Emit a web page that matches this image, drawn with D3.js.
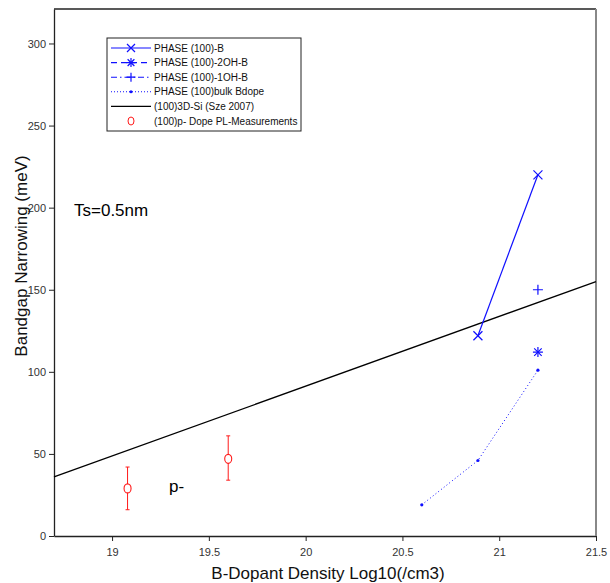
<!DOCTYPE html>
<html>
<head>
<meta charset="utf-8">
<script src="https://cdn.jsdelivr.net/npm/d3@7"></script>
<style>
body { margin: 0; background: #fff; }
svg { font-family: "Liberation Sans", Arial, sans-serif; }
</style>
</head>
<body>
<div id="chart"></div>
<script>
//data below
var phaseB_x = [20.89, 21.2];
var phaseB_y = [122, 220];
var phase2OH_x = [21.2];
var phase2OH_y = [112];
var phase1OH_x = [21.2];
var phase1OH_y = [150];
var bulk_x = [20.6, 20.89, 21.2];
var bulk_y = [19, 46, 101];
var sze_x = [18.7, 21.5];
var sze_y = [36, 155];
var meas_x = [19.08, 19.6];
var meas_y = [29, 47];
var meas_lo = [16, 34];
var meas_hi = [42, 61];

var xTicks = [19, 19.5, 20, 20.5, 21, 21.5];
var yTicks = [0, 50, 100, 150, 200, 250, 300];

var legendLabels = ["PHASE (100)-B", "PHASE (100)-2OH-B", "PHASE (100)-1OH-B",
    "PHASE (100)bulk Bdope", "(100)3D-Si (Sze 2007)", "(100)p- Dope PL-Measurements"];

const blue = "#1010ff";
const red = "#ff1a1a";

//set up svg
const width = 610, height = 583;
const margin = {left: 54, right: 14, top: 9, bottom: 47};

const svg = d3.select("#chart")
    .append("svg")
    .attr("width", width)
    .attr("height", height);

const x = d3.scaleLinear()
    .domain([18.7, 21.5])
    .range([margin.left, width - margin.right]);

const y = d3.scaleLinear()
    .domain([0, 321])
    .range([height - margin.bottom, margin.top]);

const pts = (xs, ys) => xs.map((v, i) => [v, ys[i]]);
const line = d3.line().x(d => x(d[0])).y(d => y(d[1]));

//axes
const xAxis = svg.append("g")
    .attr("transform", "translate(0," + y(0) + ")")
    .call(d3.axisBottom(x).tickValues(xTicks).tickSize(5).tickSizeOuter(0).tickFormat(d3.format("")));
const yAxis = svg.append("g")
    .attr("transform", "translate(" + x(18.7) + ",0)")
    .call(d3.axisLeft(y).tickValues(yTicks).tickSize(5).tickSizeOuter(0));
[xAxis, yAxis].forEach(a => {
    a.selectAll("text").attr("font-size", 11).attr("fill", "#333")
        .attr("font-family", "Liberation Sans, Arial, sans-serif");
    a.select(".domain").attr("stroke", "#222").attr("stroke-width", 1.3);
    a.selectAll(".tick line").attr("stroke", "#222");
});
xAxis.selectAll("text").attr("dy", "1.1em");

//top and right frame
svg.append("line")
    .attr("x1", x(18.7)).attr("x2", x(21.5))
    .attr("y1", y(321)).attr("y2", y(321))
    .attr("stroke", "#222").attr("stroke-width", 1.3);
svg.append("line")
    .attr("x1", x(21.5)).attr("x2", x(21.5))
    .attr("y1", y(321)).attr("y2", y(0))
    .attr("stroke", "#888").attr("stroke-width", 2);

//Sze line
svg.append("path")
    .attr("d", line(pts(sze_x, sze_y)))
    .attr("fill", "none").attr("stroke", "#000").attr("stroke-width", 1.3);

//PHASE (100)-B
svg.append("path")
    .attr("d", line(pts(phaseB_x, phaseB_y)))
    .attr("fill", "none").attr("stroke", blue).attr("stroke-width", 1.2);

function crossMark(g, cx, cy, s) {
    g.append("path")
        .attr("d", "M" + (cx - s) + "," + (cy - s) + "L" + (cx + s) + "," + (cy + s) +
            "M" + (cx - s) + "," + (cy + s) + "L" + (cx + s) + "," + (cy - s))
        .attr("stroke", blue).attr("stroke-width", 1.2).attr("fill", "none");
}
function plusMark(g, cx, cy, s) {
    g.append("path")
        .attr("d", "M" + (cx - s) + "," + cy + "L" + (cx + s) + "," + cy +
            "M" + cx + "," + (cy - s) + "L" + cx + "," + (cy + s))
        .attr("stroke", blue).attr("stroke-width", 1.2).attr("fill", "none");
}
function starMark(g, cx, cy, s) {
    plusMark(g, cx, cy, s);
    crossMark(g, cx, cy, s * 0.75);
}

pts(phaseB_x, phaseB_y).forEach(d => crossMark(svg, x(d[0]), y(d[1]), 4.5));
pts(phase2OH_x, phase2OH_y).forEach(d => starMark(svg, x(d[0]), y(d[1]), 5));
pts(phase1OH_x, phase1OH_y).forEach(d => plusMark(svg, x(d[0]), y(d[1]), 5));

//bulk
svg.append("path")
    .attr("d", line(pts(bulk_x, bulk_y)))
    .attr("fill", "none").attr("stroke", blue).attr("stroke-width", 1)
    .attr("stroke-dasharray", "1,2.5");
svg.selectAll(".bulkdot")
    .data(pts(bulk_x, bulk_y))
    .enter().append("circle")
    .attr("cx", d => x(d[0])).attr("cy", d => y(d[1]))
    .attr("r", 1.6).attr("fill", blue);

//measurements with error bars
meas_x.forEach((v, i) => {
    const cx = x(v);
    svg.append("line")
        .attr("x1", cx).attr("x2", cx)
        .attr("y1", y(meas_lo[i])).attr("y2", y(meas_hi[i]))
        .attr("stroke", red).attr("stroke-width", 1);
    [meas_lo[i], meas_hi[i]].forEach(e => {
        svg.append("line")
            .attr("x1", cx - 2).attr("x2", cx + 2)
            .attr("y1", y(e)).attr("y2", y(e))
            .attr("stroke", red).attr("stroke-width", 1);
    });
    svg.append("ellipse")
        .attr("cx", cx).attr("cy", y(meas_y[i]))
        .attr("rx", 3.5).attr("ry", 4.5)
        .attr("fill", "#fff").attr("stroke", red).attr("stroke-width", 1.1);
});

//annotations
svg.append("text").attr("x", 74).attr("y", 216)
    .attr("font-size", 17).text("Ts=0.5nm");
svg.append("text").attr("x", 169).attr("y", 492)
    .attr("font-size", 17).text("p-");

//axis labels
svg.append("text")
    .attr("x", 328).attr("y", 579)
    .attr("text-anchor", "middle").attr("font-size", 17).attr("fill", "#111")
    .text("B-Dopant Density Log10(/cm3)");
svg.append("text")
    .attr("transform", "translate(27," + 256 + ") rotate(-90)")
    .attr("text-anchor", "middle").attr("font-size", 17).attr("fill", "#111")
    .text("Bandgap Narrowing (meV)");

//legend
const lg = svg.append("g").attr("transform", "translate(107,38)");
lg.append("rect").attr("width", 194).attr("height", 93)
    .attr("fill", "#fff").attr("stroke", "#222").attr("stroke-width", 1);
const rowY = i => 10 + i * 14.6;
const dashes = [null, "6,4", "6,3,1.5,3", "1,2", null];
const cols = [blue, blue, blue, blue, "#000"];
legendLabels.forEach((t, i) => {
    const yy = rowY(i);
    if (i < 5) {
        lg.append("line").attr("x1", 4).attr("x2", 44).attr("y1", yy).attr("y2", yy)
            .attr("stroke", cols[i]).attr("stroke-width", 1.1)
            .attr("stroke-dasharray", dashes[i]);
    }
    if (i === 0) crossMark(lg, 24, yy, 4);
    if (i === 1) starMark(lg, 24, yy, 4.5);
    if (i === 2) plusMark(lg, 24, yy, 4.5);
    if (i === 3) lg.append("circle").attr("cx", 24).attr("cy", yy).attr("r", 1.5).attr("fill", blue);
    if (i === 5) lg.append("ellipse").attr("cx", 24).attr("cy", yy).attr("rx", 3).attr("ry", 4)
        .attr("fill", "none").attr("stroke", red).attr("stroke-width", 1);
    lg.append("text").attr("x", 47).attr("y", yy + 3.5)
        .attr("font-size", 10).attr("fill", "#111").text(t);
});
</script>
</body>
</html>
